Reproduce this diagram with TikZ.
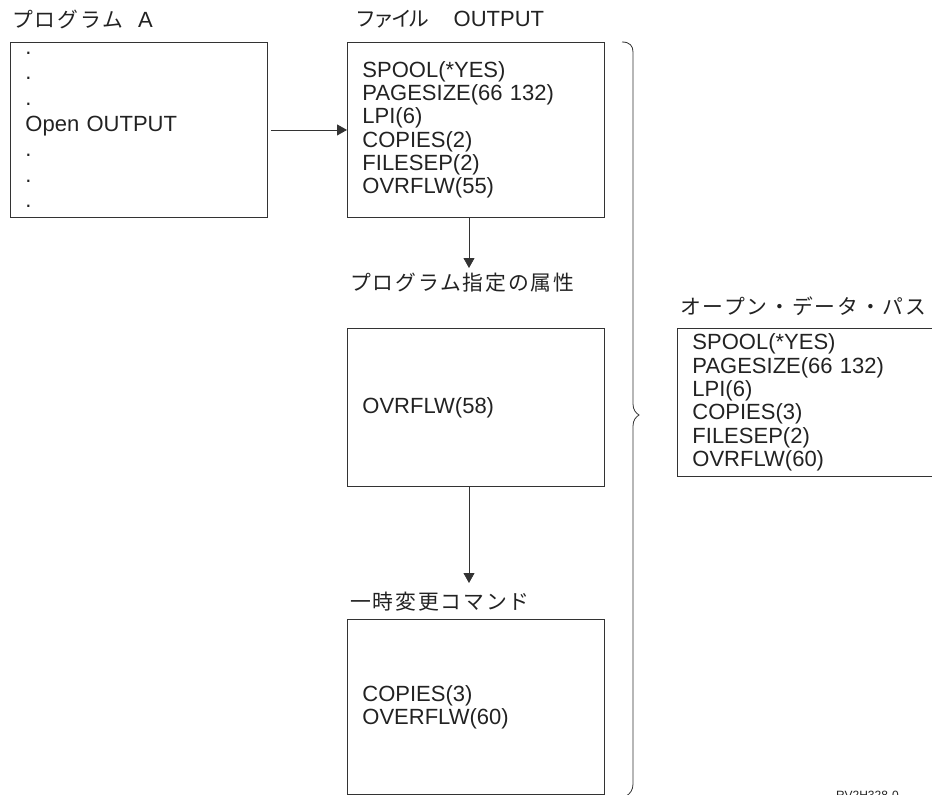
\documentclass[tikz,border=0pt]{standalone}
\usepackage{fontspec}
\setmainfont{Liberation Sans}
\newfontfamily\jp[LetterSpace=9]{Noto Sans CJK JP}
\newfontfamily\jpn[LetterSpace=-14]{Noto Sans CJK JP}
\usetikzlibrary{arrows.meta}
\definecolor{ink}{HTML}{222222}
\definecolor{edge}{HTML}{333333}
\begin{document}
\begin{tikzpicture}[x=1pt,y=-1pt,
  box/.style={draw=edge, line width=0.9pt, anchor=north west, minimum width=257pt,
    text width=227pt, inner xsep=15pt, inner ysep=0pt, align=left, text=ink,
    font=\fontsize{22}{23.3}\selectfont},
  lbl/.style={anchor=west, inner sep=0pt, text=ink, font=\fontsize{22}{23}\selectfont},
  jplbl/.style={lbl, font=\fontsize{20.8}{22}\selectfont},
  arr/.style={draw=edge, line width=0.8pt, -{Triangle[length=10pt,width=11pt]}},
]
\useasboundingbox (0,0) rectangle (932,795);

% labels
\node[lbl] (labA) at (12,19) {{\fontsize{20.8}{22}\selectfont\jp プログラム}\hspace{15pt}A};
\node[lbl] (labF) at (355,19) {{\fontsize{20.8}{22}\selectfont\jpn ファイル}\hspace{24pt}OUTPUT};
\node[jplbl] (labP) at (350,283) {\jp プログラム指定の属性};
\node[jplbl] (labC) at (350,602) {\jp 一時変更コマンド};
\node[jplbl] (labO) at (680,306) {\jp オープン・データ・パス};

% boxes
\node[box, minimum height=175pt, font=\fontsize{22}{25.6}\selectfont] (A) at (10,42)
  {.\\.\\.\\Open OUTPUT\\.\\.\\.};
\node[box, minimum height=175pt] (out) at (347,42)
  {SPOOL(*YES)\\PAGESIZE(66 132)\\LPI(6)\\COPIES(2)\\FILESEP(2)\\OVRFLW(55)};
\node[box, minimum height=158pt] (attr) at (347,328) {OVRFLW(58)};
\node[box, minimum height=175pt] (ovr) at (347,619) {COPIES(3)\\OVERFLW(60)};
\node[box, minimum height=148pt, minimum width=300pt, text width=270pt] (odp) at (677,328)
  {SPOOL(*YES)\\PAGESIZE(66 132)\\LPI(6)\\COPIES(3)\\FILESEP(2)\\OVRFLW(60)};

% connectors
\draw[arr, shorten <=3pt] (A) -- (out);
\coordinate (t1) at (469,268);
\draw[arr] (out.south -| t1) -- (t1);
\coordinate (t2) at (469,583);
\draw[arr] (attr.south -| t2) -- (t2);

% brace
\draw[edge, line width=0.8pt] (622,42) .. controls (630,42) and (633,46) .. (633,52)
  -- (633,404) .. controls (633,410) and (636,413) .. (639,415)
  .. controls (636,417) and (633,420) .. (633,426)
  -- (633,784) .. controls (633,790) and (630,794) .. (626,796);

% figure id
\node[anchor=base west, inner sep=0pt, text=ink, font=\fontsize{12}{12}\selectfont] (fid) at (836,799) {RV2H328-0};
\end{tikzpicture}
\end{document}
